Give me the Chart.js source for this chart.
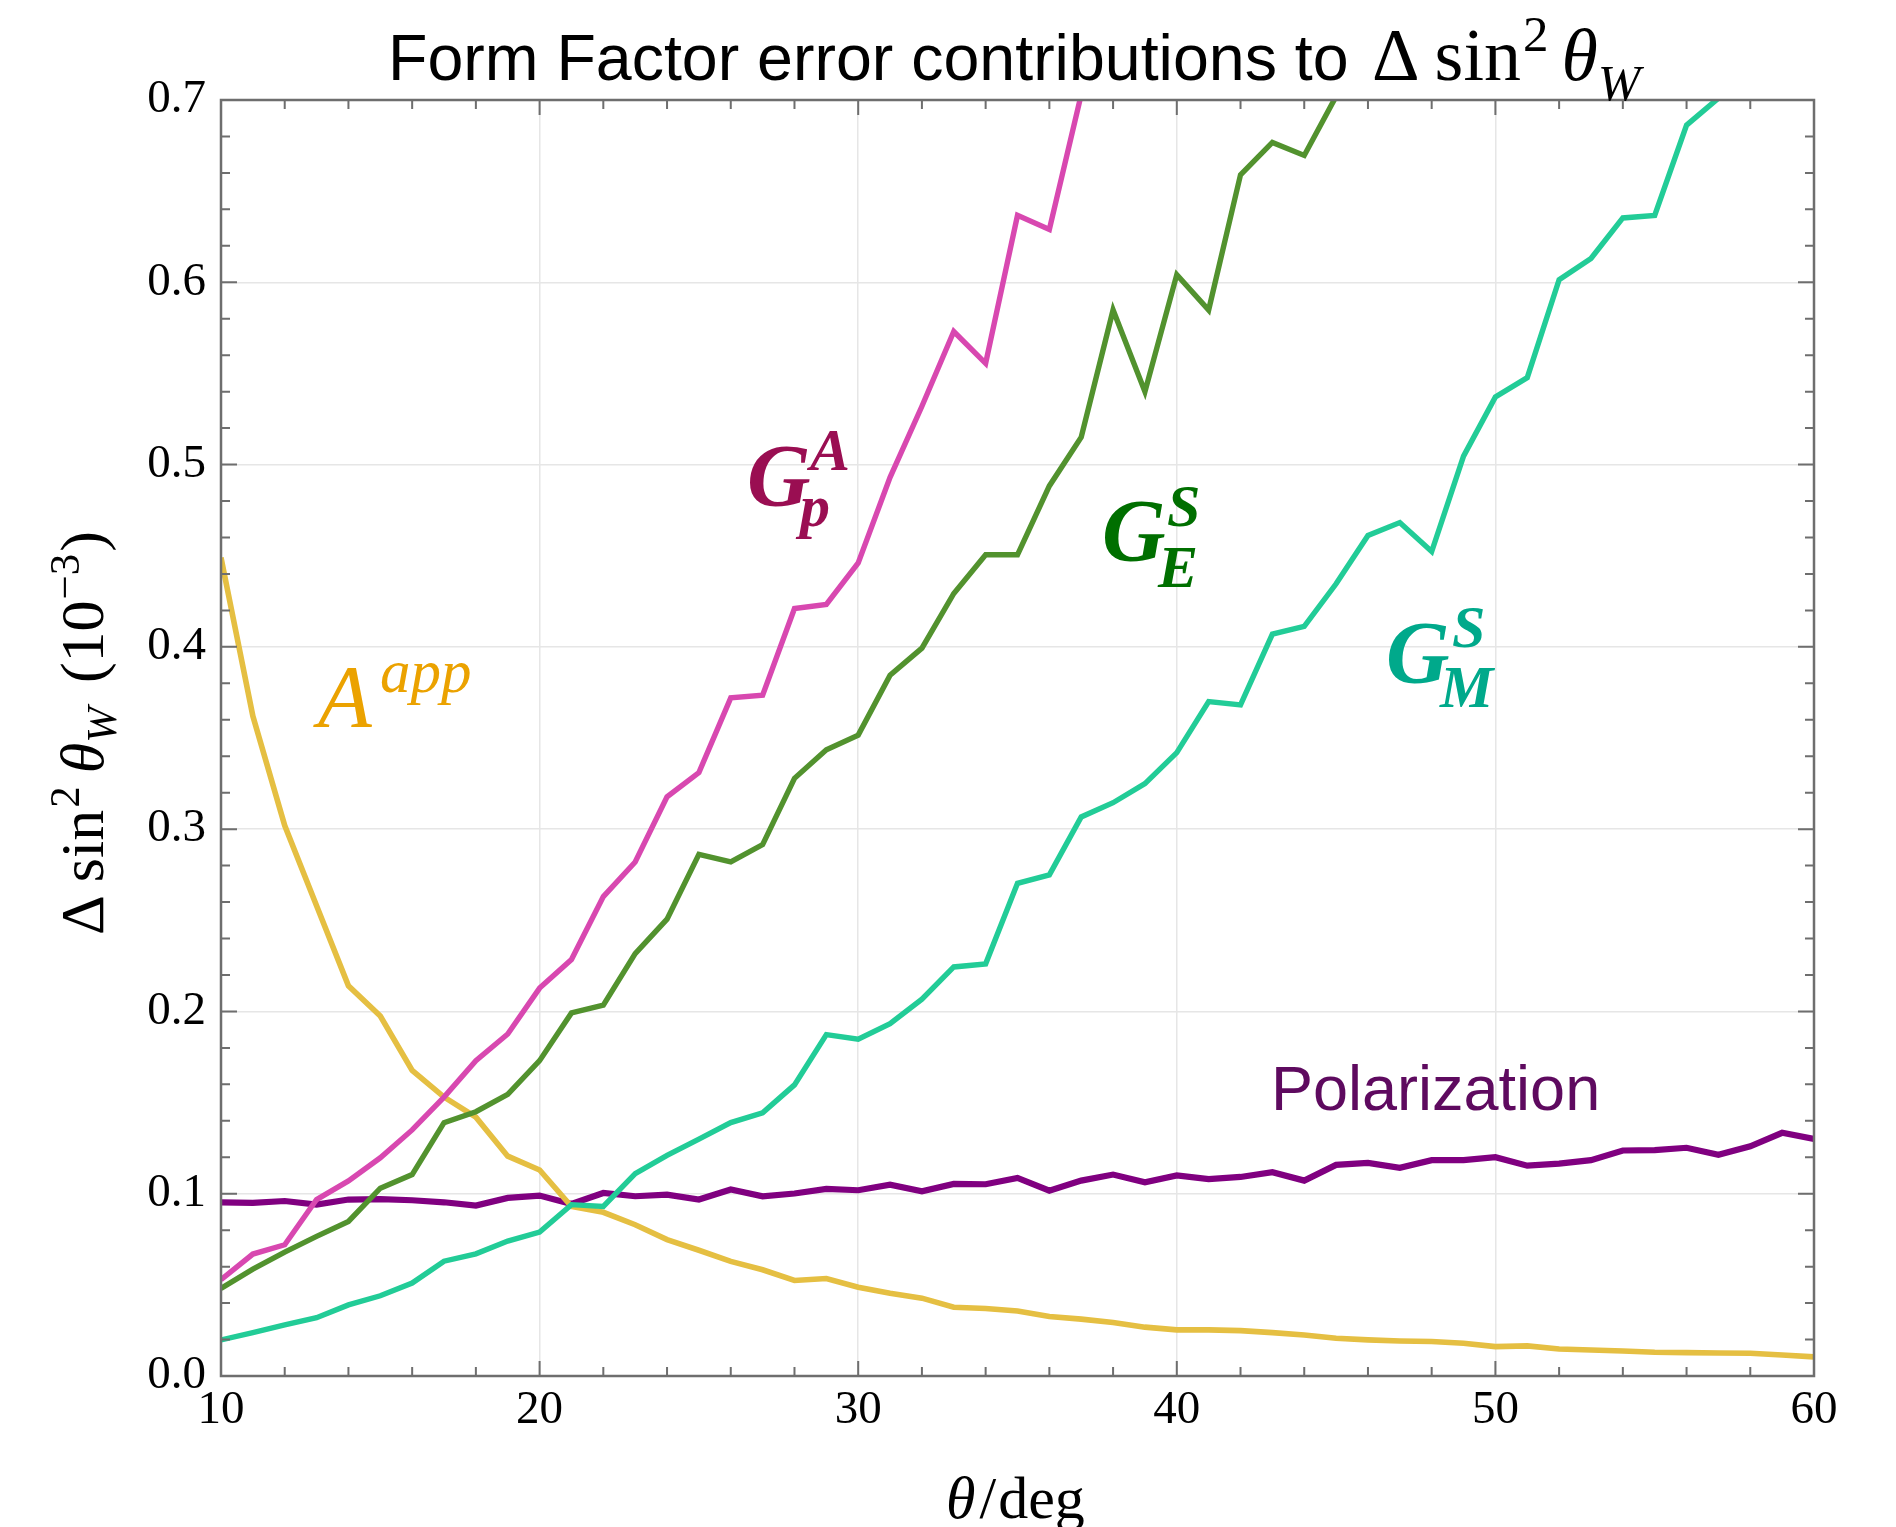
<!DOCTYPE html>
<html><head><meta charset="utf-8">
<script src="https://cdn.jsdelivr.net/npm/chart.js@4.4.1/dist/chart.umd.min.js"></script>
<style>html,body{margin:0;padding:0;background:#fff;}#wrap{width:1896px;height:1527px;}</style>
</head><body><div id="wrap"><canvas id="c" width="1896" height="1527"></canvas></div>
<script>
const angles = [10,11,12,13,14,15,16,17,18,19,20,21,22,23,24,25,26,27,28,29,30,31,32,33,34,35,36,37,38,39,40,41,42,43,44,45,46,47,48,49,50,51,52,53,54,55,56,57,58,59,60];
const polarization = [0.0953,0.095,0.096,0.094,0.0968,0.097,0.0964,0.0953,0.0935,0.0977,0.099,0.0944,0.1004,0.0986,0.0995,0.0968,0.1023,0.0986,0.1001,0.1026,0.1019,0.105,0.1013,0.1054,0.1052,0.1087,0.1017,0.1072,0.1105,0.1063,0.110,0.108,0.1092,0.1118,0.1072,0.1158,0.1169,0.1142,0.1184,0.1184,0.120,0.1154,0.1165,0.1184,0.1237,0.1239,0.1252,0.1214,0.126,0.1334,0.130];
const aApp = [0.449,0.362,0.302,0.258,0.214,0.1975,0.1677,0.153,0.142,0.1206,0.113,0.093,0.0898,0.083,0.0748,0.069,0.0629,0.0583,0.0524,0.0535,0.0487,0.0454,0.0427,0.0377,0.037,0.0357,0.0326,0.0312,0.0293,0.0268,0.0253,0.0253,0.0249,0.0238,0.0225,0.0207,0.0198,0.0192,0.0189,0.018,0.0161,0.0165,0.0148,0.0143,0.0137,0.013,0.0128,0.0126,0.0125,0.0115,0.0105];
const gpA = [0.0528,0.0669,0.072,0.0968,0.107,0.1197,0.135,0.153,0.173,0.1876,0.2128,0.2285,0.263,0.282,0.3177,0.331,0.372,0.3735,0.421,0.4233,0.446,0.493,0.532,0.573,0.5555,0.6367,0.629,0.703];
const gES = [0.048,0.0586,0.068,0.0766,0.0848,0.103,0.1105,0.139,0.145,0.1545,0.173,0.1992,0.2034,0.2317,0.2506,0.2862,0.282,0.2915,0.3279,0.3435,0.3516,0.3844,0.3993,0.4293,0.4505,0.4505,0.4883,0.515,0.5848,0.540,0.6042,0.5848,0.659,0.6767,0.6696,0.702];
const gMS = [0.0198,0.0238,0.028,0.032,0.039,0.044,0.051,0.063,0.067,0.074,0.079,0.094,0.093,0.111,0.121,0.130,0.139,0.1444,0.1597,0.1873,0.1848,0.1933,0.2067,0.2244,0.2261,0.2703,0.2749,0.3067,0.3145,0.325,0.342,0.370,0.3682,0.407,0.4113,0.4346,0.4611,0.4682,0.4523,0.5046,0.5371,0.5477,0.6014,0.6131,0.6353,0.6367,0.6862,0.701];
const xTickLabels = [10,20,30,40,50,60];
const yTickLabels = [0.0,0.1,0.2,0.3,0.4,0.5,0.6,0.7];

const SERIF = '"Liberation Serif", "Times New Roman", serif';
const SANS = '"Liberation Sans", Arial, sans-serif';

function pts(series){ return series.map((v,i)=>({x:angles[i], y:v})); }

function runs(ctx, list, x0, y0){
  let cx = x0;
  for(const r of list){
    ctx.font = r.font;
    if(r.x !== undefined) cx = r.x;
    ctx.fillText(r.t, cx, y0 + (r.dy||0));
    cx += ctx.measureText(r.t).width + (r.gap||0);
  }
  return cx;
}
function runsWidth(ctx, list){
  let w = 0;
  for(const r of list){ ctx.font = r.font; w += ctx.measureText(r.t).width + (r.gap||0); }
  return w;
}

const framePlugin = {
  id:'frameTicks',
  afterDatasetsDraw(chart){
    const ctx = chart.ctx, a = chart.chartArea, xs = chart.scales.x, ys = chart.scales.y;
    ctx.save();
    ctx.strokeStyle = '#6e6e6e';
    ctx.lineWidth = 2;
    ctx.beginPath();
    for(let v=10; v<=60; v+=2){
      const px = xs.getPixelForValue(v);
      const len = (v%10===0) ? 15 : 9;
      ctx.moveTo(px, a.bottom); ctx.lineTo(px, a.bottom-len);
      ctx.moveTo(px, a.top); ctx.lineTo(px, a.top+len);
    }
    for(let k=0; k<=35; k++){
      const v = k*0.02;
      const py = ys.getPixelForValue(v);
      const len = (k%5===0) ? 16 : 9;
      ctx.moveTo(a.left, py); ctx.lineTo(a.left+len, py);
      ctx.moveTo(a.right, py); ctx.lineTo(a.right-len, py);
    }
    ctx.stroke();
    ctx.lineWidth = 2.5;
    ctx.strokeRect(a.left, a.top, a.right-a.left, a.bottom-a.top);
    ctx.restore();
  },
  afterDraw(chart){
    const ctx = chart.ctx;
    ctx.save();
    ctx.textBaseline = 'alphabetic';
    ctx.textAlign = 'left';
    // Title
    ctx.fillStyle = '#000';
    ctx.font = '64.5px ' + SANS;
    ctx.fillText('Form Factor error contributions to', 388, 80);
    runs(ctx, [
      {t:'\u0394', font:'74px '+SERIF, x:1372, gap:15},
      {t:'sin', font:'74px '+SERIF, gap:2},
      {t:'2', font:'51px '+SERIF, dy:-29, gap:13},
      {t:'\u03B8', font:'italic 74px '+SERIF, gap:0},
      {t:'W', font:'italic 51px '+SERIF, dy:20}
    ], 1372, 80);
    // x-axis label
    runs(ctx, [
      {t:'\u03B8', font:'italic 60px '+SERIF, gap:4},
      {t:'/', font:'60px '+SERIF, gap:2},
      {t:'deg', font:'60px '+SERIF}
    ], 946, 1518);
    // y-axis label (rotated)
    const yl = [
      {t:'\u0394', font:'62px '+SERIF, gap:13},
      {t:'sin', font:'62px '+SERIF, gap:2},
      {t:'2', font:'43px '+SERIF, dy:-24, gap:13},
      {t:'\u03B8', font:'italic 62px '+SERIF, gap:0},
      {t:'W', font:'italic 43px '+SERIF, dy:13, gap:24},
      {t:'(10', font:'62px '+SERIF, gap:1},
      {t:'\u22123', font:'43px '+SERIF, dy:-24, gap:2},
      {t:')', font:'62px '+SERIF}
    ];
    ctx.save();
    ctx.translate(103, 733);
    ctx.rotate(-Math.PI/2);
    const w = runsWidth(ctx, yl);
    runs(ctx, yl, -w/2, 0);
    ctx.restore();
    // in-plot labels
    ctx.fillStyle = '#EBA200';
    runs(ctx, [{t:'A', font:'italic 88px '+SERIF, x:318}], 0, 726);
    runs(ctx, [{t:'app', font:'italic 61px '+SERIF, x:380}], 0, 692);
    ctx.fillStyle = '#9A0E52';
    runs(ctx, [{t:'G', font:'bold italic 88px '+SERIF, x:747}], 0, 505);
    runs(ctx, [{t:'A', font:'bold italic 60px '+SERIF, x:810}], 0, 470);
    runs(ctx, [{t:'p', font:'bold italic 60px '+SERIF, x:800}], 0, 526);
    ctx.fillStyle = '#006F00';
    runs(ctx, [{t:'G', font:'bold italic 88px '+SERIF, x:1102}], 0, 560);
    runs(ctx, [{t:'S', font:'bold italic 60px '+SERIF, x:1167}], 0, 526);
    runs(ctx, [{t:'E', font:'bold italic 60px '+SERIF, x:1158}], 0, 587);
    ctx.fillStyle = '#00A98B';
    runs(ctx, [{t:'G', font:'bold italic 88px '+SERIF, x:1386}], 0, 682);
    runs(ctx, [{t:'S', font:'bold italic 60px '+SERIF, x:1452}], 0, 647);
    runs(ctx, [{t:'M', font:'bold italic 60px '+SERIF, x:1440}], 0, 707);
    ctx.fillStyle = '#5E0A5F';
    ctx.font = '63px ' + SANS;
    ctx.fillText('Polarization', 1271, 1110);
    ctx.restore();
  }
};

const ds = (label, series, color, width, order) => ({
  label, data: pts(series), borderColor: color, borderWidth: width,
  pointRadius: 0, fill: false, tension: 0, clip: 0, order
});

new Chart(document.getElementById('c'), {
  type: 'line',
  data: { datasets: [
    ds('Polarization', polarization, '#800080', 6.2, 5),
    ds('A^app', aApp, '#E5BF42', 5.6, 4),
    ds('G_p^A', gpA, '#D848B0', 5.4, 3),
    ds('G_E^S', gES, '#52922E', 5.4, 2),
    ds('G_M^S', gMS, '#22CC97', 5.4, 1)
  ]},
  options: {
    responsive: false, animation: false, devicePixelRatio: 1,
    layout: { padding: { left: 0, right: 82, top: 100, bottom: 0 } },
    plugins: { legend: { display: false }, tooltip: { enabled: false }, title: { display: false } },
    scales: {
      x: {
        type: 'linear', min: 10, max: 60,
        afterBuildTicks: s => { s.ticks = xTickLabels.map(v => ({ value: v })); },
        ticks: { font: { family: 'Liberation Serif', size: 47 }, color: '#000', padding: 6, maxRotation: 0, autoSkip: false },
        grid: { color: '#e6e6e6', lineWidth: 1.5, drawTicks: false },
        border: { display: false },
        afterFit: s => { s.height = 151; }
      },
      y: {
        type: 'linear', min: 0, max: 0.7,
        afterBuildTicks: s => { s.ticks = yTickLabels.map(v => ({ value: v })); },
        ticks: { font: { family: 'Liberation Serif', size: 47 }, color: '#000', padding: 15, callback: v => Number(v).toFixed(1) },
        grid: { color: '#e6e6e6', lineWidth: 1.5, drawTicks: false },
        border: { display: false },
        afterFit: s => { s.width = 221; }
      }
    }
  },
  plugins: [framePlugin]
});
</script></body></html>
